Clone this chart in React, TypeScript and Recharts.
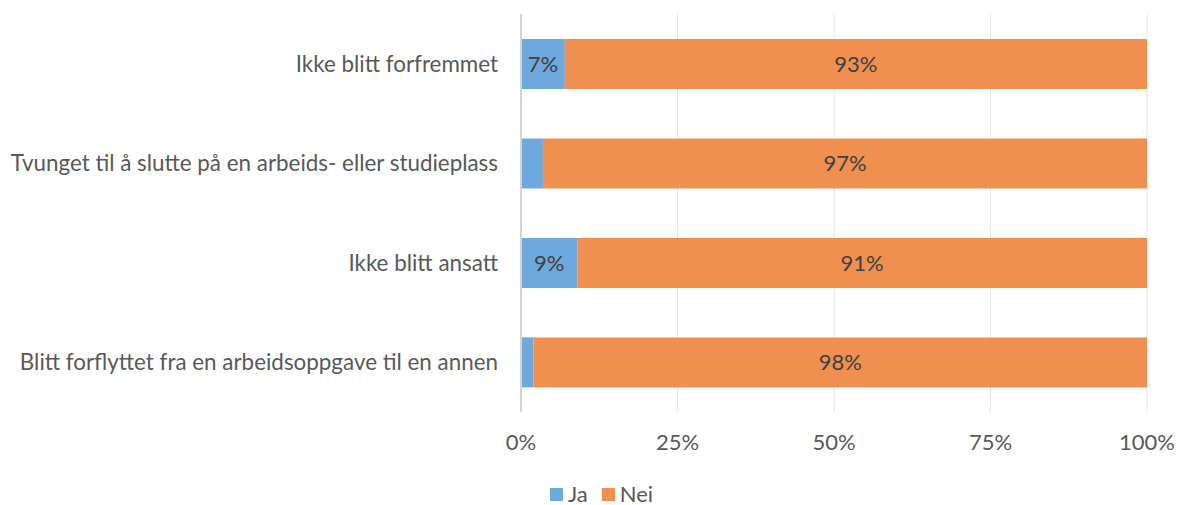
import React from 'react';
import { BarChart, Bar, XAxis, YAxis, CartesianGrid, Legend, LabelList } from 'recharts';

const categories = [
  'Ikke blitt forfremmet',
  'Tvunget til å slutte på en arbeids- eller studieplass',
  'Ikke blitt ansatt',
  'Blitt forflyttet fra en arbeidsoppgave til en annen',
];
const jaValues = [7, 3.5, 9, 2];
const neiValues = [93, 96.5, 91, 98];
const xTicks = [0, 25, 50, 75, 100];

const data = categories.map((c, i) => ({ name: c, Ja: jaValues[i], Nei: neiValues[i] }));

const BLUE = '#6FA8DC';
const ORANGE = '#EF9050';
const FONT = 'Lato, "Open Sans", sans-serif';
const FS = 22;

const legendItems = [
  { label: 'Ja', color: BLUE },
  { label: 'Nei', color: ORANGE },
];

const LegendContent = () => (
  <div style={{ display: 'flex', justifyContent: 'center', alignItems: 'center', paddingLeft: 56, paddingTop: 19, fontFamily: FONT }}>
    {legendItems.map((it, i) => (
      <div key={it.label} style={{ display: 'flex', alignItems: 'center', marginRight: i === 0 ? 14 : 0 }}>
        <div style={{ width: 13, height: 13, background: it.color, marginRight: 5 }} />
        <span style={{ fontSize: FS, color: '#595959', lineHeight: '22px' }}>{it.label}</span>
      </div>
    ))}
  </div>
);

const fmt = (v: any) => `${Math.round(Number(v))}%`;
const fmtJa = (v: any) => (Number(v) >= 5 ? `${Math.round(Number(v))}%` : '');

export default function App() {
  return (
    <div style={{ position: 'absolute', left: 0, top: 0, width: 1181, height: 505, background: '#fff' }}>
      <BarChart
        width={1181}
        height={505}
        data={data}
        layout="vertical"
        margin={{ top: 14, right: 34, bottom: 0, left: 0 }}
        barCategoryGap="25%"
        style={{ fontFamily: FONT }}
      >
        <CartesianGrid horizontal={false} stroke="#E6E6E6" strokeWidth={1} />
        <XAxis
          type="number"
          domain={[0, 100]}
          ticks={xTicks}
          tickFormatter={(v) => `${v}%`}
          axisLine={false}
          tickLine={false}
          tickSize={0}
          tickMargin={22}
          height={52}
          tick={{ fill: '#595959', fontSize: FS }}
          interval={0}
        />
        <YAxis
          type="category"
          dataKey="name"
          width={521}
          axisLine={{ stroke: '#D4D4D4', strokeWidth: 2 }}
          tickLine={false}
          tickSize={0}
          tickMargin={23}
          tick={{ fill: '#595959', fontSize: 22.4 }}
          interval={0}
        />
        <Legend verticalAlign="bottom" height={41} content={<LegendContent />} />
        <Bar dataKey="Ja" stackId="a" fill={BLUE} isAnimationActive={false}>
          <LabelList dataKey="Ja" position="center" formatter={fmtJa} fill="#404040" fontSize={FS} />
        </Bar>
        <Bar dataKey="Nei" stackId="a" fill={ORANGE} isAnimationActive={false}>
          <LabelList dataKey="Nei" position="center" formatter={fmt} fill="#404040" fontSize={FS} />
        </Bar>
      </BarChart>
    </div>
  );
}
